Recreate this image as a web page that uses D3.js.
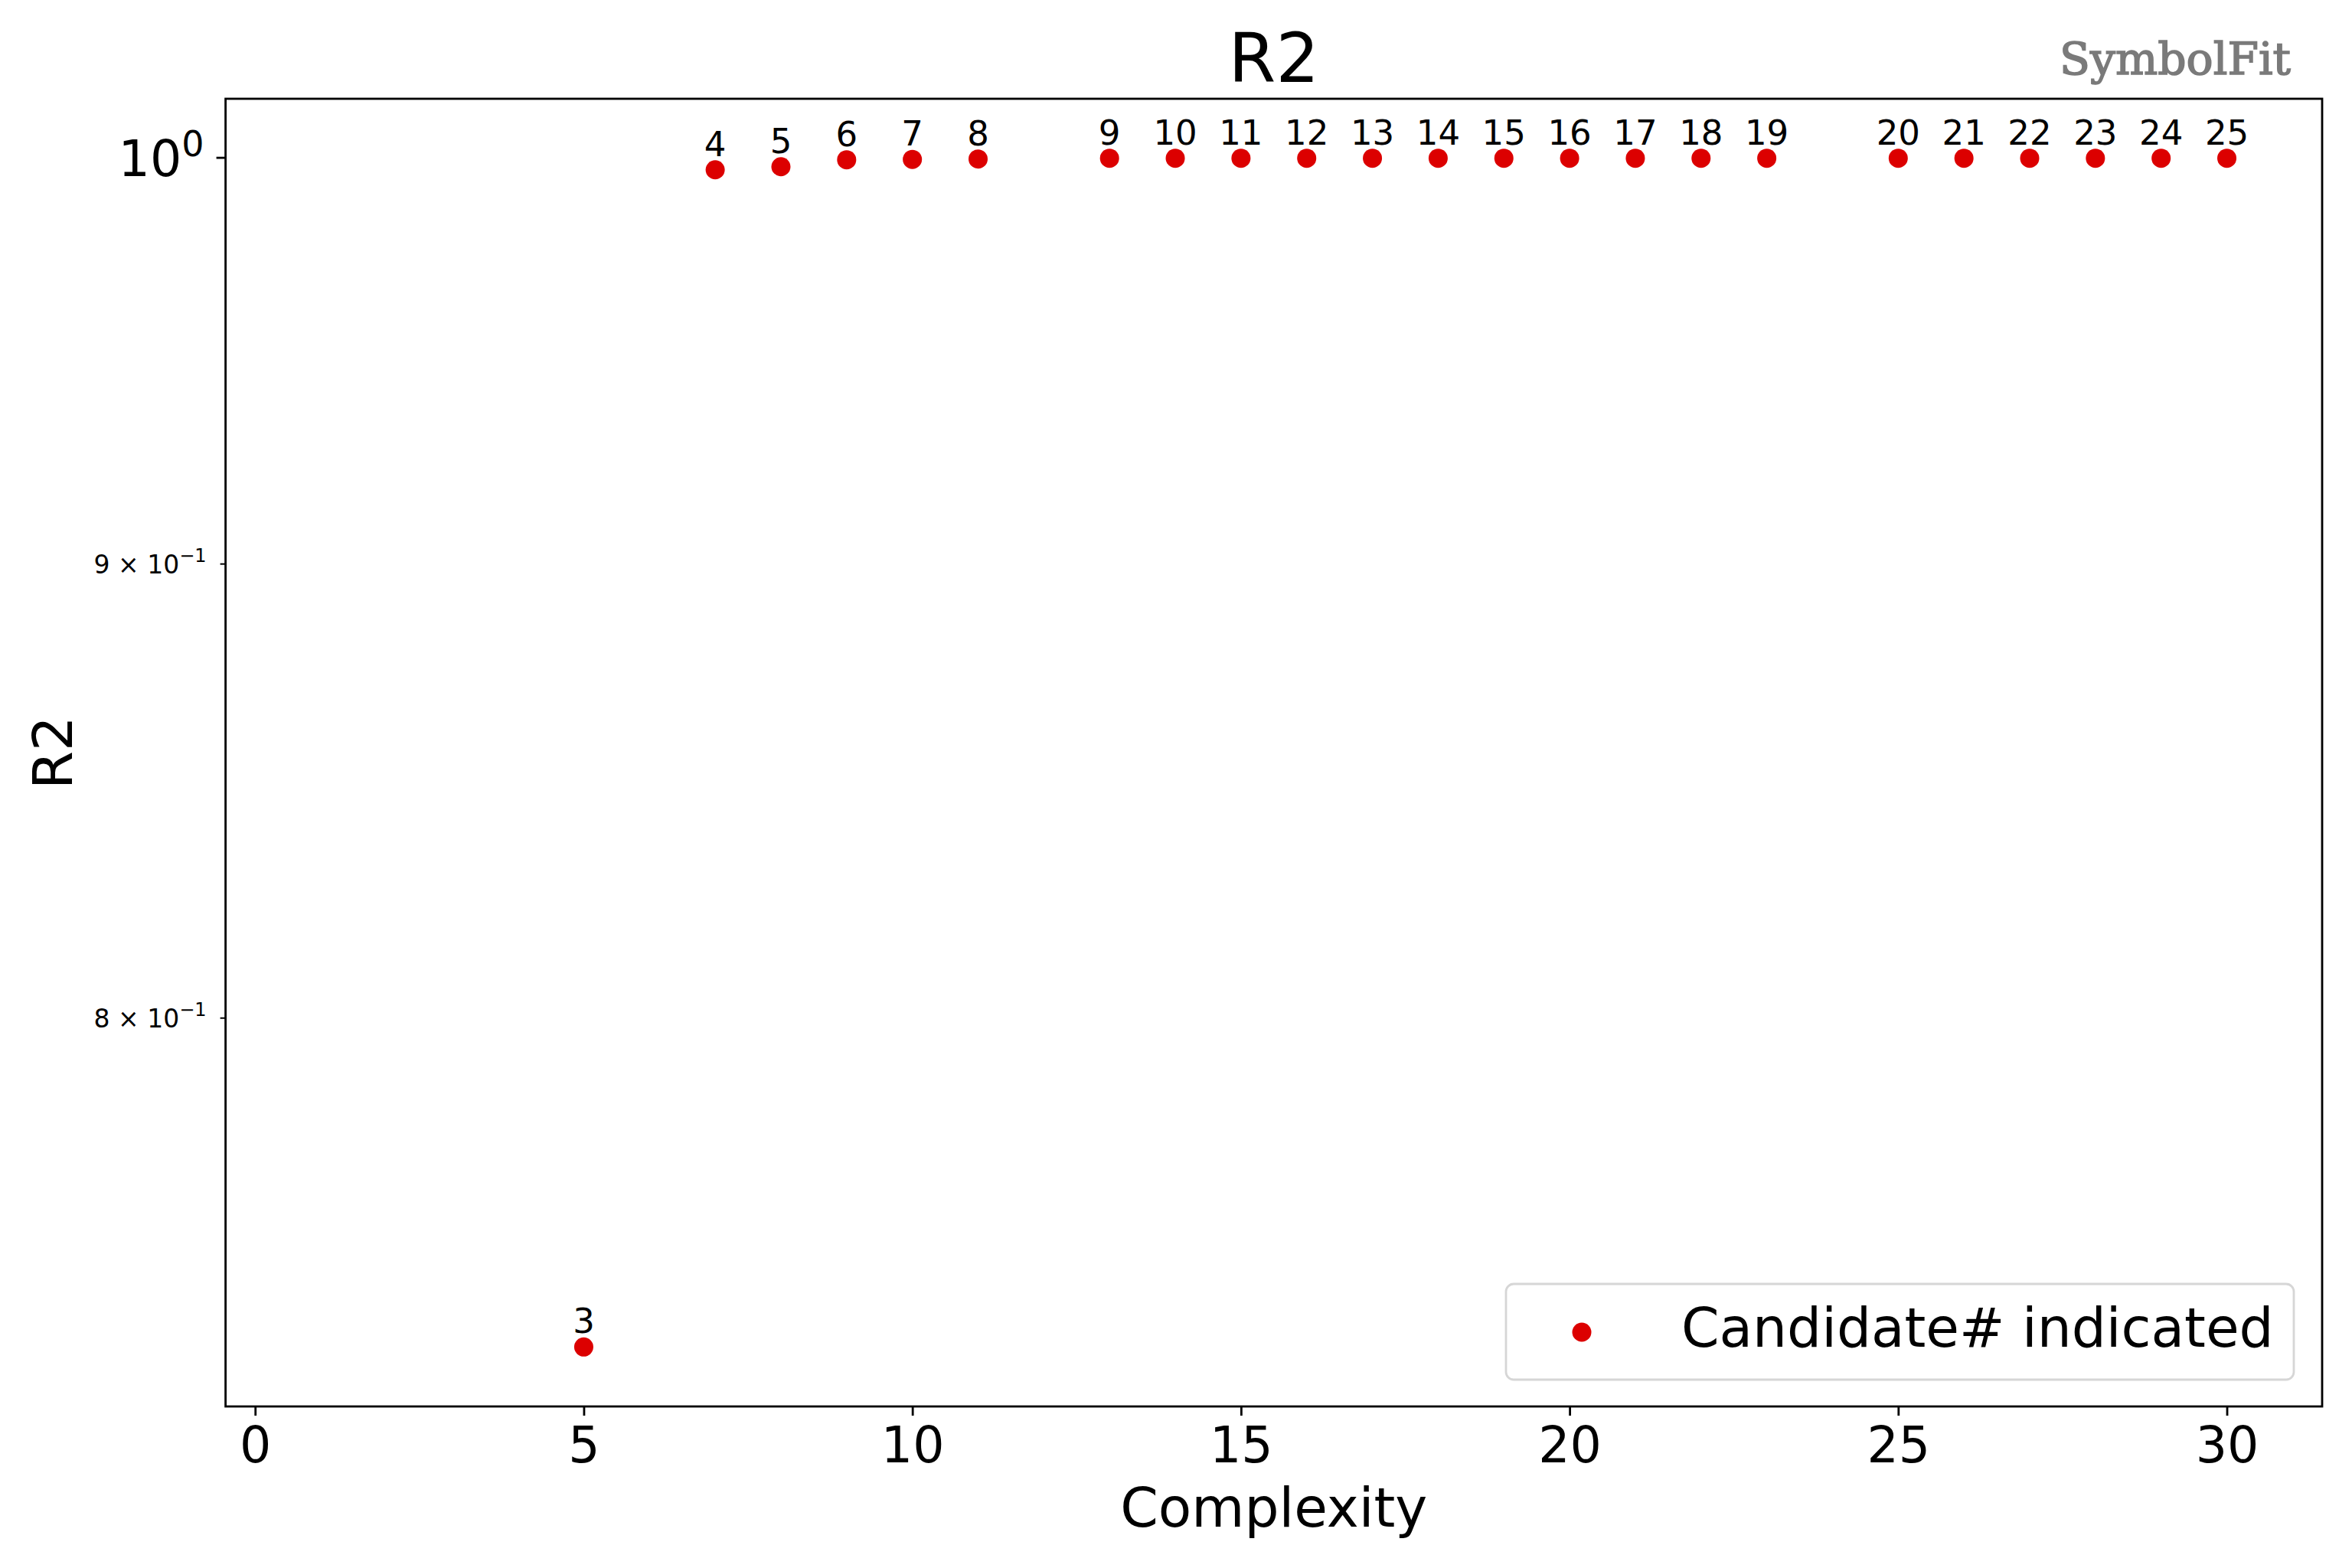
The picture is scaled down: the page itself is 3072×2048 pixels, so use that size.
<!DOCTYPE html>
<html>
<head>
<meta charset="utf-8">
<script src="https://cdn.jsdelivr.net/npm/d3@7"></script>
<style>
  html, body { margin: 0; padding: 0; background: #ffffff; }
  svg { display: block; }
</style>
</head>
<body>
<svg id="chart" width="3072" height="2048" font-family="DejaVu Sans, sans-serif"></svg>
<script>
// ---------------- data ----------------
const complexity = [5, 7, 8, 9, 10, 11, 13, 14, 15, 16, 17, 18, 19, 20, 21, 22, 23, 25, 26, 27, 28, 29, 30];
const r2 = [0.7345, 0.9968, 0.9976, 0.9994, 0.9995, 0.9996,
            0.9998, 0.9998, 0.9998, 0.9998, 0.9998, 0.9998, 0.9998, 0.9998, 0.9998, 0.9998, 0.9998,
            0.9998, 0.9998, 0.9998, 0.9998, 0.9998, 0.9998];
const candidate = [3, 4, 5, 6, 7, 8, 9, 10, 11, 12, 13, 14, 15, 16, 17, 18, 19, 20, 21, 22, 23, 24, 25];
const xTicks = [0, 5, 10, 15, 20, 25, 30];
const yMajorTicks = [1];
const yMinorTicks = [0.8, 0.9];
const xLimits = [-0.45, 31.45];
const titleText = "R2";
const xLabelText = "Complexity";
const yLabelText = "R2";
const legendText = "Candidate# indicated";
const logoText = "SymbolFit";

// ---------------- layout ----------------
const plot = { left: 294.6, right: 3033, top: 129, bottom: 1837 };
const dotColor = "#dc0000";
const svg = d3.select("#chart");

const x = d3.scaleLinear().domain(xLimits).range([plot.left, plot.right]);
const lmin = Math.log10(d3.min(r2)), lmax = Math.log10(d3.max(r2));
const pad = (lmax - lmin) * 0.05;
const y = d3.scaleLog().domain([Math.pow(10, lmin - pad), Math.pow(10, lmax + pad)]).range([plot.bottom, plot.top]);

// ---------------- axes ----------------
const xAxis = d3.axisBottom(x).tickValues(xTicks).tickSize(12).tickPadding(12).tickFormat(d3.format("d"));
const gx = svg.append("g").attr("transform", `translate(0,${plot.bottom})`).call(xAxis);
gx.select(".domain").remove();
gx.selectAll(".tick line").attr("stroke", "#000").attr("stroke-width", 2.8);
gx.selectAll(".tick text").attr("font-size", 65).attr("fill", "#000")
  .attr("font-family", "DejaVu Sans").attr("dy", "0.76em");

const yAxis = d3.axisLeft(y).tickValues(yMajorTicks).tickSize(12).tickPadding(12).tickFormat(() => "");
const gy = svg.append("g").attr("transform", `translate(${plot.left},0)`).call(yAxis);
gy.select(".domain").remove();
gy.selectAll(".tick line").attr("stroke", "#000").attr("stroke-width", 2.8);
gy.selectAll(".tick text").remove();
yMajorTicks.forEach(v => {
  const t = svg.append("text")
    .attr("x", plot.left - 12 - 12 - 4).attr("y", y(v) + 24)
    .attr("text-anchor", "end").attr("font-size", 65).attr("fill", "#000");
  t.append("tspan").text("10");
  t.append("tspan").attr("font-size", 46).attr("dy", -26).text(Math.round(Math.log10(v)).toString());
});

const yMinor = d3.axisLeft(y).tickValues(yMinorTicks).tickSize(7).tickFormat(() => "");
const gym = svg.append("g").attr("transform", `translate(${plot.left},0)`).call(yMinor);
gym.select(".domain").remove();
gym.selectAll(".tick line").attr("stroke", "#000").attr("stroke-width", 2);
gym.selectAll(".tick text").remove();
yMinorTicks.forEach(v => {
  const e = Math.floor(Math.log10(v));
  const m = Math.round(v / Math.pow(10, e));
  const t = svg.append("text")
    .attr("x", plot.left - 7 - 18).attr("y", y(v) + 13)
    .attr("text-anchor", "end").attr("font-size", 33).attr("fill", "#000");
  t.append("tspan").text(m + " \u00d7 10");
  t.append("tspan").attr("font-size", 24).attr("dy", -15).text("\u2212" + Math.abs(e));
});

// frame
svg.append("rect")
  .attr("x", plot.left).attr("y", plot.top)
  .attr("width", plot.right - plot.left).attr("height", plot.bottom - plot.top)
  .attr("fill", "none").attr("stroke", "#000").attr("stroke-width", 2.8);

// ---------------- points ----------------
const pts = complexity.map((c, i) => ({ c, v: r2[i], n: candidate[i] }));
svg.append("g").selectAll("circle").data(pts).join("circle")
  .attr("cx", d => x(d.c)).attr("cy", d => y(d.v)).attr("r", 12.5).attr("fill", dotColor);
svg.append("g").selectAll("text").data(pts).join("text")
  .attr("x", d => x(d.c)).attr("y", d => y(d.v) - 18)
  .attr("text-anchor", "middle").attr("font-size", 45).attr("fill", "#000")
  .text(d => d.n);

// ---------------- titles ----------------
svg.append("text").attr("x", (plot.left + plot.right) / 2).attr("y", 107)
  .attr("text-anchor", "middle").attr("font-size", 89).attr("fill", "#000").text(titleText);
svg.append("text").attr("x", (plot.left + plot.right) / 2).attr("y", 1994)
  .attr("text-anchor", "middle").attr("font-size", 71).attr("fill", "#000").text(xLabelText);
svg.append("text")
  .attr("transform", `translate(94,${(plot.top + plot.bottom) / 2}) rotate(-90)`)
  .attr("text-anchor", "middle").attr("font-size", 72).attr("fill", "#000").text(yLabelText);

// ---------------- legend ----------------
const lg = svg.append("g");
lg.append("rect").attr("x", 1967).attr("y", 1677).attr("width", 1029).attr("height", 125)
  .attr("rx", 10).attr("ry", 10).attr("fill", "#fff").attr("fill-opacity", 0.8)
  .attr("stroke", "#d6d6d6").attr("stroke-width", 2.8);
lg.append("circle").attr("cx", 2066).attr("cy", 1740).attr("r", 12.5).attr("fill", dotColor);
lg.append("text").attr("x", 2196).attr("y", 1759).attr("font-size", 71).attr("fill", "#000").text(legendText);

// ---------------- logo ----------------
svg.append("text").attr("x", 2690).attr("y", 97)
  .style("font-family", "'DejaVu Serif', serif")
  .attr("font-size", 58).attr("fill", "#7a7a7a")
  .attr("stroke", "#7a7a7a").attr("stroke-width", 1.6)
  .attr("textLength", 302).attr("lengthAdjust", "spacingAndGlyphs")
  .text(logoText);
</script>
</body>
</html>
